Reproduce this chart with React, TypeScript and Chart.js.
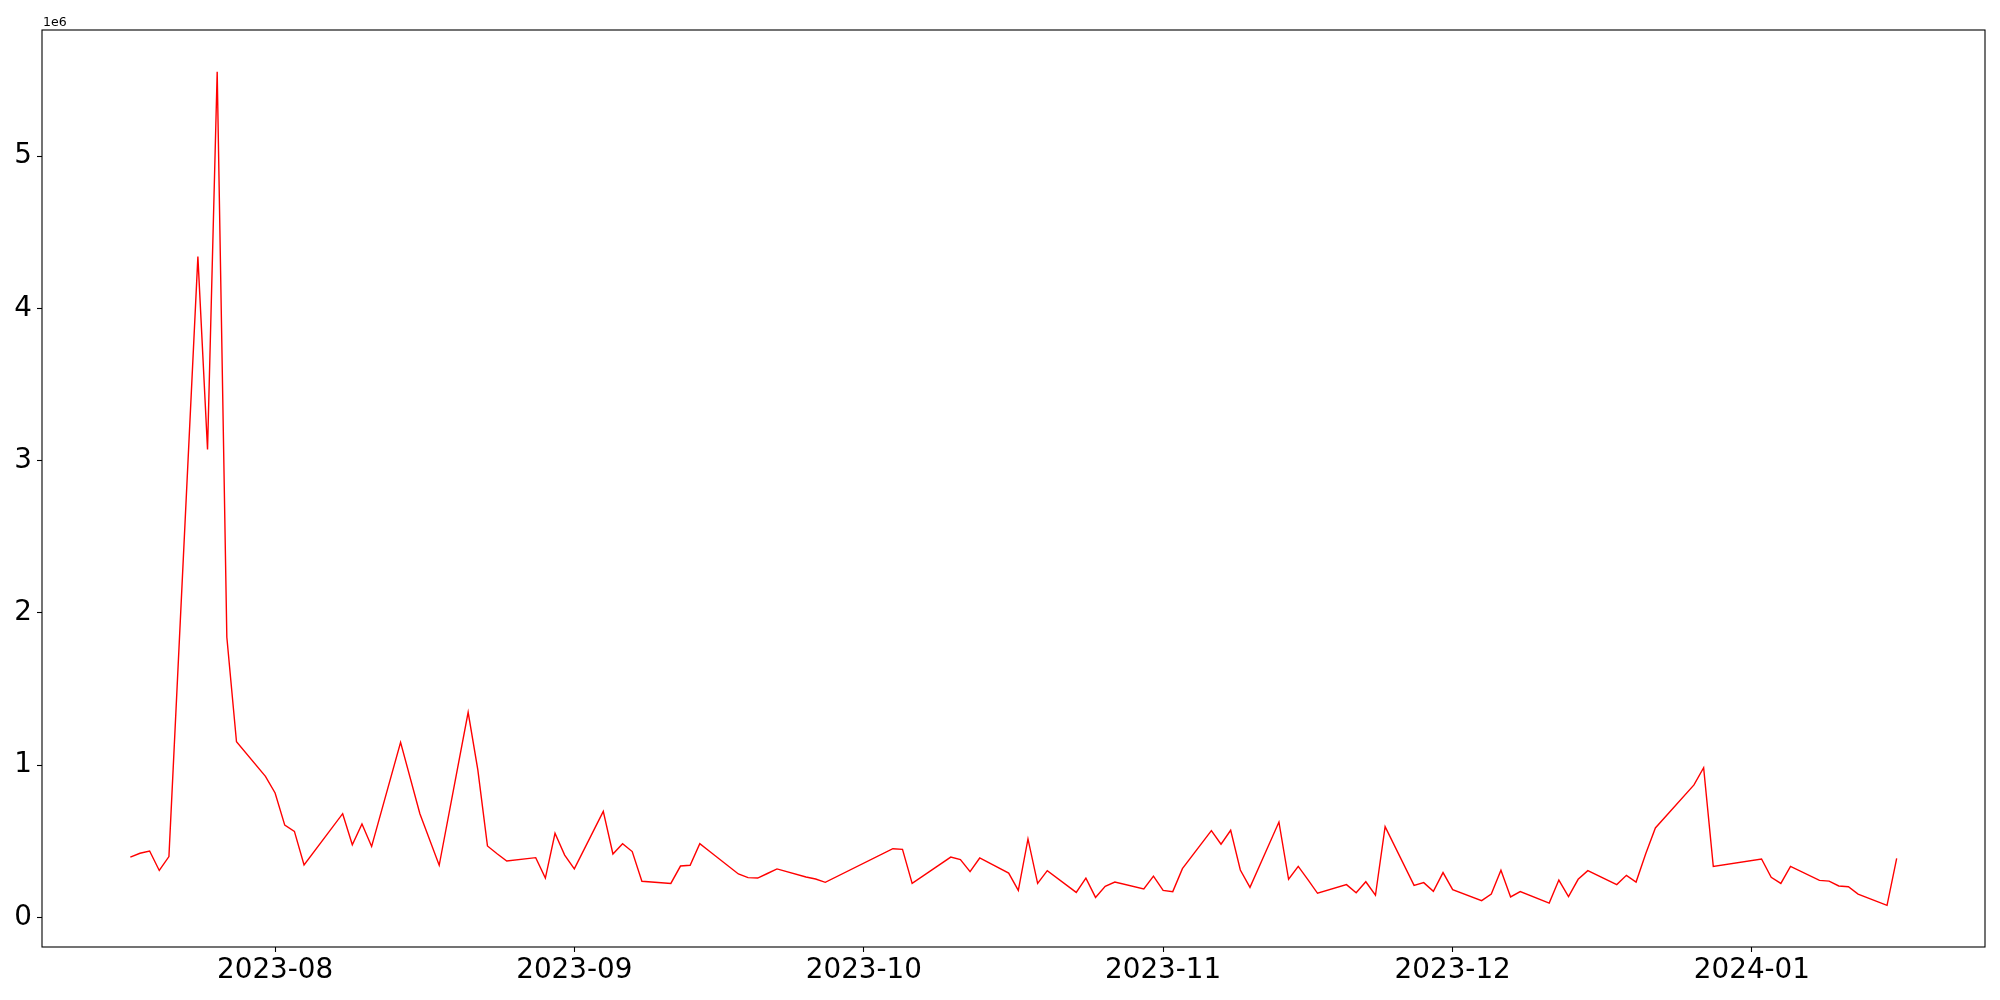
import React, { useEffect, useRef } from "react";
import { Chart, registerables } from "chart.js";

Chart.register(...registerables);

const dates = [
  "2023-07-17", "2023-07-18", "2023-07-19", "2023-07-20", "2023-07-21",
  "2023-07-24", "2023-07-25", "2023-07-26", "2023-07-27", "2023-07-28",
  "2023-07-31", "2023-08-01", "2023-08-02", "2023-08-03", "2023-08-04",
  "2023-08-08", "2023-08-09", "2023-08-10", "2023-08-11", "2023-08-14",
  "2023-08-16", "2023-08-18", "2023-08-21", "2023-08-22", "2023-08-23",
  "2023-08-24", "2023-08-25", "2023-08-28", "2023-08-29", "2023-08-30",
  "2023-08-31", "2023-09-01", "2023-09-04", "2023-09-05", "2023-09-06",
  "2023-09-07", "2023-09-08", "2023-09-11", "2023-09-12", "2023-09-13",
  "2023-09-14", "2023-09-15", "2023-09-18", "2023-09-19", "2023-09-20",
  "2023-09-21", "2023-09-22", "2023-09-25", "2023-09-26", "2023-09-27",
  "2023-10-04", "2023-10-05", "2023-10-06", "2023-10-10", "2023-10-11",
  "2023-10-12", "2023-10-13", "2023-10-16", "2023-10-17", "2023-10-18",
  "2023-10-19", "2023-10-20", "2023-10-23", "2023-10-24", "2023-10-25",
  "2023-10-26", "2023-10-27", "2023-10-30", "2023-10-31", "2023-11-01",
  "2023-11-02", "2023-11-03", "2023-11-06", "2023-11-07", "2023-11-08",
  "2023-11-09", "2023-11-10", "2023-11-13", "2023-11-14", "2023-11-15",
  "2023-11-16", "2023-11-17", "2023-11-20", "2023-11-21", "2023-11-22",
  "2023-11-23", "2023-11-24", "2023-11-27", "2023-11-28", "2023-11-29",
  "2023-11-30", "2023-12-01", "2023-12-04", "2023-12-05", "2023-12-06",
  "2023-12-07", "2023-12-08", "2023-12-11", "2023-12-12", "2023-12-13",
  "2023-12-14", "2023-12-15", "2023-12-18", "2023-12-19", "2023-12-20",
  "2023-12-21", "2023-12-22", "2023-12-26", "2023-12-27", "2023-12-28",
  "2024-01-02", "2024-01-03", "2024-01-04", "2024-01-05", "2024-01-08",
  "2024-01-09", "2024-01-10", "2024-01-11", "2024-01-12", "2024-01-15",
  "2024-01-16",
];

const volumes = [
  395000, 421000, 436000, 308000, 399000,
  4340000, 3073000, 5555000, 1840000, 1153000,
  926000, 817000, 606000, 565000, 344000,
  681000, 477000, 613000, 466000, 1150000,
  681000, 342000, 1347000, 970000, 469000,
  418000, 370000, 392000, 258000, 552000,
  409000, 318000, 696000, 416000, 484000,
  432000, 237000, 223000, 337000, 342000,
  484000, 434000, 285000, 261000, 258000,
  288000, 318000, 265000, 252000, 230000,
  451000, 447000, 223000, 396000, 379000,
  300000, 390000, 291000, 177000, 515000,
  223000, 307000, 164000, 258000, 131000,
  204000, 232000, 186000, 271000, 177000,
  169000, 320000, 570000, 480000, 572000,
  311000, 197000, 626000, 250000, 335000,
  248000, 158000, 215000, 162000, 234000,
  145000, 596000, 210000, 228000, 171000,
  294000, 182000, 110000, 153000, 309000,
  134000, 169000, 94000, 245000, 136000,
  250000, 307000, 215000, 276000, 232000,
  418000, 587000, 870000, 983000, 335000,
  383000, 263000, 223000, 335000, 243000,
  238000, 206000, 201000, 153000, 79000,
  388000,
];

const monthTicks = ["2023-08", "2023-09", "2023-10", "2023-11", "2023-12", "2024-01"];
const yTicks = [0, 1000000, 2000000, 3000000, 4000000, 5000000];
const offsetLabel = "1e6";

const DAY = 86400000;
const toDay = (s: string) => {
  const p = s.split("-").map(Number);
  return Date.UTC(p[0], p[1] - 1, p[2] ?? 1) / DAY;
};

const FONT = "'DejaVu Sans', sans-serif";

export default function App() {
  const ref = useRef<HTMLCanvasElement | null>(null);

  useEffect(() => {
    if (!ref.current) return;
    const xs = dates.map(toDay);
    const xMin0 = Math.min(...xs);
    const xMax0 = Math.max(...xs);
    const xr = xMax0 - xMin0;
    const yMin0 = Math.min(...volumes);
    const yMax0 = Math.max(...volumes);
    const yr = yMax0 - yMin0;

    const framePlugin = {
      id: "frame",
      afterDraw(chart: any) {
        const { ctx, chartArea } = chart;
        ctx.save();
        ctx.strokeStyle = "#000";
        ctx.lineWidth = 1.1;
        ctx.strokeRect(chartArea.left, chartArea.top, chartArea.right - chartArea.left, chartArea.bottom - chartArea.top);
        ctx.fillStyle = "#000";
        ctx.font = `12.5px ${FONT}`;
        ctx.textBaseline = "alphabetic";
        ctx.textAlign = "left";
        ctx.fillText(offsetLabel, chartArea.left + 1, chartArea.top - 4.5);
        ctx.restore();
      },
    };

    const chart = new Chart(ref.current, {
      type: "line",
      data: {
        datasets: [
          {
            data: xs.map((x, i) => ({ x, y: volumes[i] })),
            borderColor: "#ff0000",
            borderWidth: 1.4,
            pointRadius: 0,
            tension: 0,
            fill: false,
          },
        ],
      },
      options: {
        responsive: false,
        animation: false,
        devicePixelRatio: 1,
        layout: { padding: { left: 0, right: 15, top: 30, bottom: 0 } },
        plugins: { legend: { display: false }, tooltip: { enabled: false }, title: { display: false } },
        scales: {
          x: {
            type: "linear",
            min: xMin0 - 0.05 * xr,
            max: xMax0 + 0.05 * xr,
            afterBuildTicks: (s: any) => {
              s.ticks = monthTicks.map((m) => ({ value: toDay(m) }));
            },
            afterFit: (s: any) => {
              s.height = 53;
            },
            ticks: {
              callback: (_v: any, i: number) => monthTicks[i],
              font: { family: FONT, size: 27.8 },
              color: "#000",
              maxRotation: 0,
              autoSkip: false,
              padding: 2,
            },
            grid: { drawOnChartArea: false, tickLength: 5, tickColor: "#000", tickWidth: 1.1 },
            border: { display: false },
          },
          y: {
            type: "linear",
            min: yMin0 - 0.05 * yr,
            max: yMax0 + 0.05 * yr,
            afterBuildTicks: (s: any) => {
              s.ticks = yTicks.map((v) => ({ value: v }));
            },
            afterFit: (s: any) => {
              s.width = 42;
            },
            ticks: {
              callback: (v: any) => String(Number(v) / 1000000),
              font: { family: FONT, size: 27.8 },
              color: "#000",
              autoSkip: false,
              padding: 5,
            },
            grid: { drawOnChartArea: false, tickLength: 5, tickColor: "#000", tickWidth: 1.1 },
            border: { display: false },
          },
        },
      },
      plugins: [framePlugin],
    } as any);

    return () => chart.destroy();
  }, []);

  return (
    <div style={{ position: "absolute", left: 0, top: 0, width: 2000, height: 1000, background: "#fff" }}>
      <canvas ref={ref} width={2000} height={1000} style={{ width: 2000, height: 1000 }} />
    </div>
  );
}
